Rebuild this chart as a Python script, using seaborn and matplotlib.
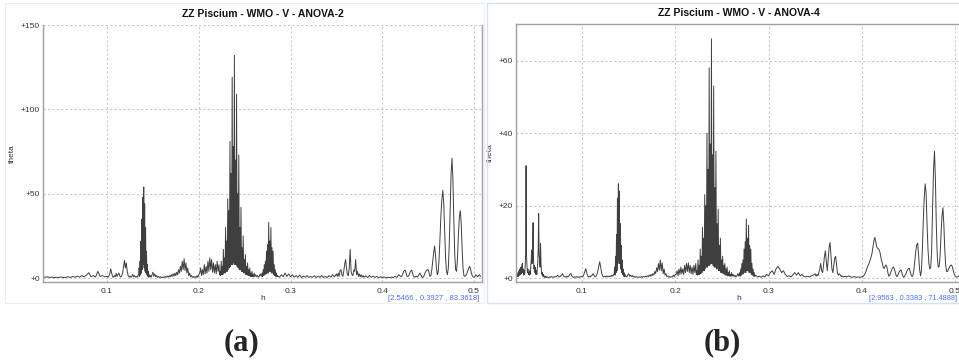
import numpy as np
import pandas as pd
import matplotlib
matplotlib.use("Agg")
import matplotlib.pyplot as plt
import seaborn as sns
from matplotlib.patches import Rectangle
from matplotlib.ticker import FuncFormatter, MultipleLocator

sns.set_style("white")
plt.rcParams['font.family'] = ['Liberation Sans', 'DejaVu Sans']

# ---------------- data : panel (a) ANOVA-2 ----------------
# frequency grid of each segment: (start h, step)
a_grid = [(0.0300, 0.0025), (0.1000, 0.0010), (0.1345, 0.0005), (0.1470, 0.0010),
          (0.2010, 0.0010), (0.2220, 0.0006), (0.2610, 0.0010), (0.2690, 0.0006),
          (0.2860, 0.0020), (0.3510, 0.0010), (0.3820, 0.0020), (0.4210, 0.0010)]
a1 = [1.0, 0.5, 0.8, 0.4, 0.6, 0.3, 0.5, 0.4, 0.7, 0.3, 0.5, 0.8, 0.4, 1.0,
      0.5, 1.2, 0.6, 1.5, 0.7, 1.8, 3.2, 0.8, 1.5, 0.6, 4.0, 1.0, 1.5, 0.8]
a2 = [1.0, 0.5, 1.2, 2.5, 5.5, 3.0, 1.0, 0.5, 1.5, 0.8, 2.8, 1.0, 2.2, 3.0, 1.2,
      0.6, 1.5, 3.0, 7.0, 10.5, 6.0, 9.0, 4.0, 1.5, 0.6, 1.2, 0.5, 1.0, 2.2, 0.8,
      1.5, 0.6, 1.0, 0.5, 2.0]
a3 = [2, 6, 1, 10, 2, 22, 3, 35, 5, 48, 8, 54, 6, 44, 4, 30, 3, 16, 2, 8, 1, 4,
      0.5, 2, 1]
a4 = [1.5, 0.5, 2.0, 3.5, 1.0, 2.5, 0.8, 1.5, 0.5, 1.0, 0.4, 0.8, 0.3, 0.6, 0.3,
      0.8, 0.4, 1.0, 0.5, 1.2, 0.6, 1.5, 0.8, 2.0, 1.0, 2.5, 1.2, 3.0, 1.5, 3.5,
      2.0, 5.0, 3.0, 7.0, 4.0, 10.0, 5.0, 11.5, 4.5, 9.0, 3.0, 6.0, 1.5, 3.0, 0.8,
      1.5, 0.5, 1.0, 0.4, 0.8, 0.3, 1.5, 0.5, 2.0]
a5 = [3, 6, 1.5, 5, 2, 8, 2.5, 7, 3, 10, 4, 12, 5, 11, 3.5, 9, 3, 8, 2.5, 10, 4]
a6 = [8, 2, 4, 1.5,   10, 2, 7, 2,   17, 3, 12, 3,   30, 4, 22, 4,
      47, 5, 40, 6,   81, 7, 62, 8,  119, 8, 78, 9,  132, 8, 70, 8,
      109, 7, 50, 6,  73, 5, 30, 5,  42, 4, 18, 4,   25, 3, 11, 3,
      14, 2, 7, 2,    9, 1.5, 5, 1.5, 6, 1, 3, 1,    4, 1, 2, 0.8,   3]
a7 = [1.0, 2.0, 0.8, 1.5, 0.6, 1.2, 2.5, 1.0]
a8 = [3, 1, 5, 1.5, 8, 2, 10, 2.5, 16, 3, 20, 3, 33, 4, 22, 4, 30, 3, 18, 3,
      16, 2, 8, 1.5, 5, 1, 3, 0.8]
a9 = [1.5, 0.5, 2.0, 0.8, 3.0, 1.0, 2.5, 0.8, 2.0, 0.6, 1.5, 0.5, 1.8, 0.4, 1.2,
      0.5, 1.5, 0.4, 1.0, 0.5, 1.4, 0.3, 1.2, 0.5, 1.5, 0.4, 1.0, 0.3, 1.5, 0.6,
      2.0, 0.8, 2.5]
a10 = [1.0, 3.0, 1.0, 4.5, 5.0, 2.0, 1.0, 4.0, 8.0, 11.0, 6.0, 2.0, 1.5, 6.0, 17.0,
       4.0, 2.0, 1.5, 5.0, 4.0, 11.0, 2.0, 4.0, 1.0, 2.5, 0.8, 2.0, 0.6, 1.5, 0.5]
a11 = [1.2, 0.4, 1.5, 0.5, 1.2, 0.4, 1.0, 0.3, 0.8, 0.3, 0.6, 0.3, 0.5, 0.3, 0.6,
       0.3, 1.0, 0.5, 2.0, 1.0]
a12 = [1.0, 2.0, 3.5, 4.5, 4.7, 3.0, 1.0, 1.0, 1.5, 3.0, 4.2, 4.7, 3.0, 1.2, 0.5,
       0.8, 1.2, 0.6, 1.0, 2.2, 3.0, 2.0, 0.8, 0.4, 0.8, 2.0, 3.5, 4.5, 5.0, 5.0,
       3.0, 1.0, 1.5, 5.0, 10.0, 15.0, 19.0, 14.0, 6.0, 2.0, 4.0, 12.0, 25.0, 38.0,
       47.0, 52.0, 44.0, 28.0, 12.0, 4.0, 2.0, 6.0, 20.0, 42.0, 62.0, 71.0, 58.0,
       34.0, 14.0, 5.0, 4.0, 12.0, 26.0, 36.0, 40.0, 33.0, 18.0, 6.0, 1.5, 1.0, 1.5,
       2.5, 4.0, 5.5, 7.0, 6.0, 3.5, 1.5, 0.8, 0.5, 1.0, 2.0, 1.5, 0.8, 1.5, 2.0, 1.0]
a_segments = [a1, a2, a3, a4, a5, a6, a7, a8, a9, a10, a11, a12]

# ---------------- data : panel (b) ANOVA-4 ----------------
b_grid = [(0.0300, 0.0005), (0.0630, 0.0010), (0.1345, 0.0005), (0.1470, 0.0010),
          (0.2010, 0.0010), (0.2220, 0.0006), (0.2610, 0.0010), (0.2690, 0.0006),
          (0.2860, 0.0020), (0.3510, 0.0010), (0.3820, 0.0020), (0.4010, 0.0010)]
b1 = [0.5, 1.0, 0.4, 1.5, 0.5, 2.0, 0.8, 2.5, 1.0, 3.0, 1.2, 3.5, 4.0, 1.5, 2.5,
      0.8, 2.0, 1.0, 3.0, 6.5, 31.0, 6.0, 3.0, 1.5, 2.5, 1.0, 1.5, 0.8, 2.0, 1.0,
      3.0, 5.0, 7.7, 4.0, 8.0, 15.3, 5.0, 2.5, 3.5, 1.5, 3.0, 1.0, 2.0, 1.0, 2.5,
      4.0, 8.0, 17.8, 6.0, 5.9, 3.0, 9.6, 4.0, 2.0, 1.0, 1.5, 0.5, 1.0, 0.3, 0.6,
      0.2, 0.5, 0.2, 0.4, 0.2]
b2 = [0.3, 0.1, 0.3, 0.2, 0.4, 0.2, 0.3, 0.2, 0.4, 0.3, 0.5, 0.8, 0.4, 0.3, 0.5,
      0.8, 1.2, 0.6, 0.3, 0.4, 0.2, 0.5, 0.3, 0.6, 1.0, 1.3, 0.6, 0.3, 0.2, 0.3,
      0.2, 0.4, 0.2, 0.3, 0.2, 0.4, 0.3, 0.5, 0.4, 1.0, 1.8, 2.6, 1.5, 0.6, 0.3,
      0.5, 0.3, 0.6, 0.8, 1.2, 0.6, 0.3, 0.5, 1.0, 2.0, 3.2, 4.5, 3.0, 1.5, 0.6,
      0.3, 0.5, 0.3, 0.6, 0.3, 0.5, 0.3, 0.6, 0.4, 0.8, 0.5, 1.0]
b3 = [1, 3, 0.8, 6, 1.5, 12, 2, 22, 4, 26, 5, 24, 4, 15, 2.5, 9, 1.5, 5, 1, 2.5,
      0.5, 1.5, 0.4, 1, 0.5]
b4 = [0.5, 0.3, 0.8, 1.2, 0.5, 0.8, 0.4, 0.7, 0.3, 0.5, 0.2, 0.4, 0.2, 0.3, 0.2,
      0.3, 0.2, 0.4, 0.2, 0.4, 0.3, 0.5, 0.3, 0.6, 0.4, 0.8, 0.5, 1.0, 0.6, 1.2,
      0.8, 1.8, 1.2, 2.8, 1.8, 4.0, 2.2, 5.0, 2.0, 4.2, 1.2, 2.5, 0.8, 1.2, 0.4,
      0.6, 0.2, 0.4, 0.2, 0.4, 0.3, 0.8, 0.4, 1.0]
b5 = [1.0, 2.0, 0.6, 2.5, 1.0, 3.0, 1.2, 2.5, 1.0, 3.5, 1.5, 4.0, 1.8, 4.2, 1.5,
      3.5, 1.2, 3.0, 1.0, 3.5, 1.5]
b6 = [4, 1, 2, 0.8,     5, 1, 3.5, 1,     8, 1.2, 6, 1.5,   14, 2, 11, 2,
      23, 2.5, 20, 3,   40, 3, 30, 3.5,   58, 3.5, 37, 4,   66, 4, 34, 3.5,
      53, 3, 25, 3,     35, 2.5, 15, 2.5, 19, 2, 9, 2,      11, 1.5, 5, 1.5,
      6, 1.2, 3.5, 1,   4, 0.8, 2.5, 0.8, 3, 0.6, 1.5, 0.6, 2, 0.5, 1, 0.5,  1.5]
b7 = [0.5, 1.0, 0.4, 0.8, 0.3, 0.6, 1.2, 0.5]
b8 = [1.5, 0.5, 2.5, 0.8, 4, 1, 5, 1.2, 8, 1.5, 10, 1.5, 16.3, 2, 11, 2, 14.6,
      1.5, 9, 1.5, 8, 1, 4, 0.8, 2.5, 0.5, 1.5, 0.4]
b9 = [0.8, 0.3, 0.5, 0.2, 0.6, 0.3, 1.0, 0.6, 1.5, 2.0, 1.0, 2.5, 3.2, 2.5, 1.5,
      2.0, 1.0, 0.4, 0.6, 0.3, 0.8, 1.5, 0.8, 1.5, 0.6, 1.0, 0.4, 0.3, 0.5, 0.3,
      0.6, 0.8, 1.2]
b10 = [0.5, 1.0, 0.6, 1.5, 2.5, 4.0, 2.0, 1.5, 3.5, 6.0, 7.5, 4.5, 2.0, 5.0, 8.5,
       9.8, 6.0, 2.5, 1.5, 3.5, 5.5, 6.0, 3.5, 1.2, 0.8, 1.2, 0.8, 0.4, 0.6, 0.3]
b11 = [0.5, 0.3, 0.6, 0.3, 0.2, 0.4, 0.2, 0.3, 0.2, 0.3]
b12 = [0.4, 0.6, 1.0, 1.5, 2.2, 3.0, 3.6, 4.2, 5.0, 5.8, 6.8, 8.5, 10.2, 11.2,
       10.0, 8.6, 8.2, 8.0, 7.6, 6.5, 5.0, 4.2, 3.0, 2.6, 3.2, 3.6, 3.0, 1.5, 0.5,
       0.8, 1.5, 2.2, 2.8, 3.0, 2.5, 1.5, 0.6, 0.4, 1.0, 1.6, 2.0, 2.2, 1.5, 0.6,
       0.2, 0.5, 1.0, 1.6, 2.2, 2.6, 2.7, 1.8, 0.8, 0.4, 0.8, 2.5, 5.0, 7.5, 9.2,
       9.6, 6.0, 2.5, 0.6, 2.0, 8.0, 16.0, 22.0, 26.0, 23.5, 15.0, 8.0, 4.0, 2.5,
       3.0, 8.0, 20.0, 30.0, 35.0, 27.0, 14.0, 6.0, 3.0, 3.2, 6.0, 12.0, 17.0,
       19.4, 15.0, 8.0, 3.5, 1.8, 1.8, 2.5, 3.0, 3.4, 3.6, 3.2, 2.2, 1.2, 0.6,
       0.4, 0.3, 0.3, 0.5, 0.8, 1.0, 0.8]
b_segments = [b1, b2, b3, b4, b5, b6, b7, b8, b9, b10, b11, b12]

titles = ["ZZ Piscium - WMO - V - ANOVA-2", "ZZ Piscium - WMO - V - ANOVA-4"]
cursor_text = ["[2.5466 , 0.3927 , 83.3618]", "[2.9563 , 0.3383 , 71.4888]"]
captions = ["(a)", "(b)"]


def build(grid, segs):
    hs, ts = [], []
    for (h0, dh), vals in zip(grid, segs):
        hs.append(h0 + dh * np.arange(len(vals)))
        ts.append(np.asarray(vals, dtype=float))
    return pd.DataFrame({"h": np.concatenate(hs), "theta": np.concatenate(ts)})


df_a = build(a_grid, a_segments)
df_b = build(b_grid, b_segments)

W, H = 959, 360
fig = plt.figure(figsize=(W / 100, H / 100), dpi=100)
fig.patch.set_facecolor("white")


def px_axes(x0, y0, x1, y1):
    return fig.add_axes([x0 / W, 1 - y1 / H, (x1 - x0) / W, (y1 - y0) / H])


# panel frames
fig.patches.append(Rectangle((5 / W, 1 - 303 / H), (484 - 5) / W, 300 / H,
                             transform=fig.transFigure, fill=False,
                             edgecolor="#eeeeee", lw=0.8))
fig.patches.append(Rectangle((487 / W, 1 - 303 / H), (960 - 487) / W, 300 / H,
                             transform=fig.transFigure, fill=False,
                             edgecolor="#d3e3f5", lw=1.0))

axL = px_axes(43, 25, 482, 282)
axR = px_axes(516, 24, 962, 282)

specs = [
    (axL, df_a, (0.0302, 0.5087), (-2.3, 150), 50, -0.062, True),
    (axR, df_b, (0.0292, 0.5075), (-1.1, 70.1), 20, -0.050, False),
]

for i, (ax, df, xl, yl, ystep, ylab_x, left_panel) in enumerate(specs):
    sns.lineplot(data=df, x="h", y="theta", ax=ax, color="#3f3f3f",
                 linewidth=0.7, estimator=None, errorbar=None, sort=False)
    ax.set_xlim(*xl)
    ax.set_ylim(*yl)
    ax.xaxis.set_major_locator(MultipleLocator(0.1))
    ax.yaxis.set_major_locator(MultipleLocator(ystep))
    ax.yaxis.set_major_formatter(FuncFormatter(lambda v, p: f"+{v:g}"))
    ax.xaxis.set_major_formatter(FuncFormatter(lambda v, p: f"{v:.1f}"))
    ax.grid(True, color="#c9c9c9", linestyle=(0, (2, 2)), linewidth=0.8)
    ax.set_axisbelow(True)
    ax.tick_params(length=0, labelsize=6, colors="#333333")
    ax.tick_params(axis="x", pad=4)
    ax.tick_params(axis="y", pad=2)
    for s in ax.spines.values():
        s.set_color("#a0a0a0")
        s.set_linewidth(1.0)
    if left_panel:
        ax.spines["top"].set_visible(False)
    else:
        ax.spines["right"].set_visible(False)
    ax.set_title(titles[i], fontsize=7.5, fontweight="bold", pad=5.5,
                 color="#111111")
    ax.set_xlabel("h", fontsize=6, color="#333333")
    ax.xaxis.set_label_coords(0.5, -0.052)
    ax.set_ylabel("theta", fontsize=6, color="#333333")
    ax.yaxis.set_label_coords(ylab_x, 0.5)

fig.text(388 / W, 1 - 299 / H, cursor_text[0], color="#4f6ef7", fontsize=5.5,
         va="center", ha="left")
fig.text(957 / W, 1 - 299 / H, cursor_text[1], color="#4f6ef7", fontsize=5.3,
         va="center", ha="right")

fig.text(241.7 / W, 1 - 343 / H, captions[0], fontsize=22, fontweight="bold",
         family=["Liberation Serif", "DejaVu Serif"], ha="center", va="center")
fig.text(722.5 / W, 1 - 343 / H, captions[1], fontsize=22, fontweight="bold",
         family=["Liberation Serif", "DejaVu Serif"], ha="center", va="center")

fig.savefig("out.png", dpi=100, facecolor="white")
